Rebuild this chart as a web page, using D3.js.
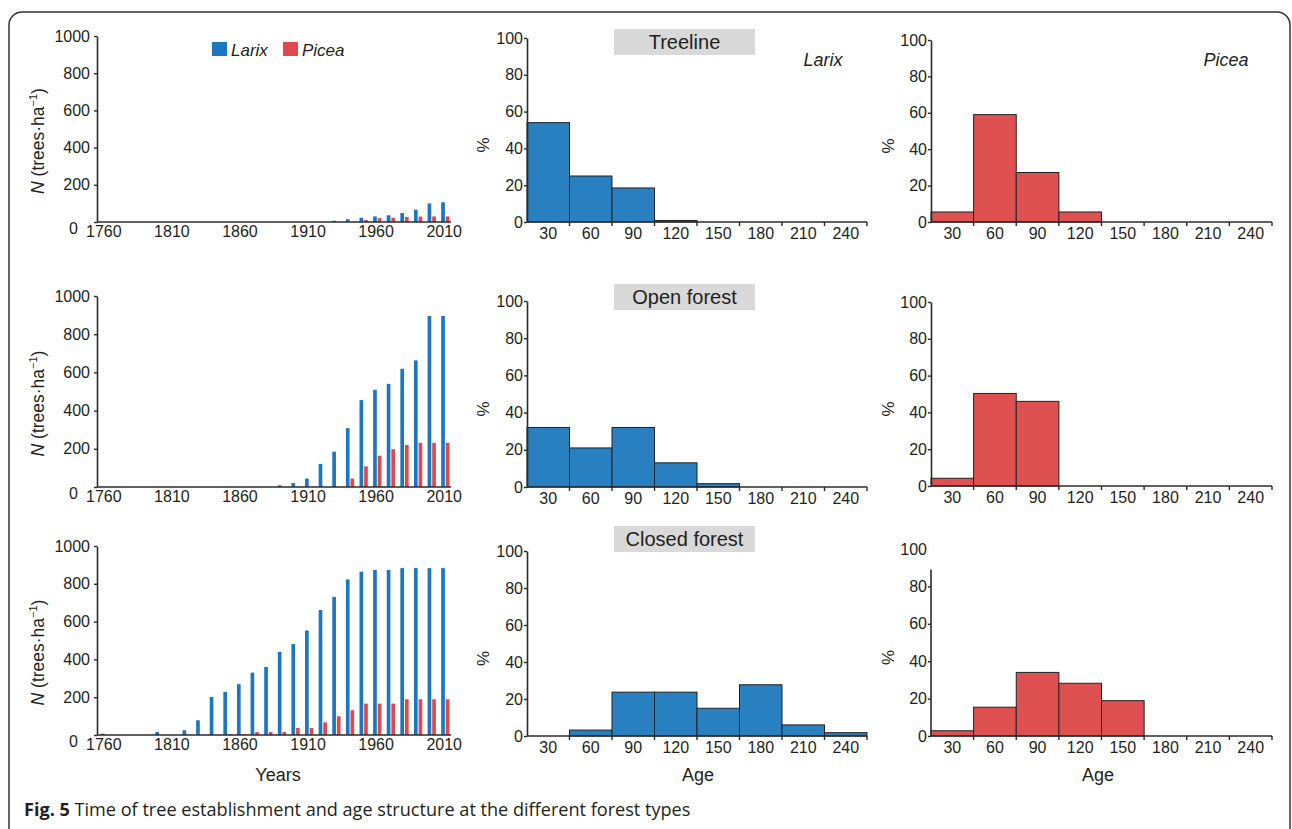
<!DOCTYPE html>
<html>
<head>
<meta charset="utf-8">
<script src="https://cdn.jsdelivr.net/npm/d3@7"></script>
<style>
  html, body { margin: 0; padding: 0; background: #fff; }
  svg { display: block; }
  text { font-family: "Liberation Sans", Arial, sans-serif; fill: #231f20; }
</style>
</head>
<body>
<svg id="chart" width="1292" height="829"></svg>
<script>
// ---------- DATA ----------
const years = [1760,1770,1780,1790,1800,1810,1820,1830,1840,1850,1860,1870,1880,1890,1900,1910,1920,1930,1940,1950,1960,1970,1980,1990,2000,2010];
const yearTicks = [1760,1810,1860,1910,1960,2010];
const countTicks = [0,200,400,600,800,1000];

const treelineLarix = [0,0,0,0,0,0,0,0,0,0,0,0,0,0,0,0,0,7,15,23,30,36,48,66,100,106];
const treelinePicea = [0,0,0,0,0,0,0,0,0,0,0,0,0,0,0,0,0,0,0,11,21,23,27,29,30,30];
const openLarix     = [0,0,0,0,0,0,0,0,0,0,0,0,0,9,21,44,121,185,308,455,509,540,619,663,895,895];
const openPicea     = [0,0,0,0,0,0,0,0,0,0,0,0,0,0,0,0,0,0,44,108,164,198,220,231,231,231];
const closedLarix   = [7,0,0,0,16,0,25,78,201,228,269,330,360,440,481,553,661,731,823,864,873,873,883,883,883,883];
const closedPicea   = [0,0,0,0,0,0,0,0,0,5,5,16,16,16,37,37,67,99,131,166,166,166,189,189,189,189];

const ageClasses = ["30","60","90","120","150","180","210","240"];
const pctTicks = [0,20,40,60,80,100];
const treelineLarixPct = [54,25,18.5,0.8,0,0,0,0];
const openLarixPct     = [32,21,32,13,1.8,0,0,0];
const closedLarixPct   = [0,3.2,23.7,23.7,15,27.7,6,1.8];
const treelinePiceaPct = [5.5,59,27.2,5.5,0,0,0,0];
const openPiceaPct     = [4.2,50.3,46,0,0,0,0,0];
const closedPiceaPct   = [2.8,15.4,34,28.2,18.9,0,0,0];

const forestTypes = ["Treeline","Open forest","Closed forest"];
const speciesNames = ["Larix","Picea"];

// ---------- STYLE ----------
const BLUE_BAR = "#1b76c4";
const RED_BAR = "#e0484c";
const BLUE_HIST = "#2880c0";
const RED_HIST = "#df5151";
const AXIS = "#2b2b2b";
const FS = 16;     // tick labels
const FT = 18;     // titles

const svg = d3.select("#chart");

// frame
svg.append("rect").attr("x",9).attr("y",12).attr("width",1281).attr("height",840)
  .attr("rx",13).attr("fill","none").attr("stroke","#333").attr("stroke-width",1.5);

function styleAxis(g){
  g.select(".domain").attr("stroke",AXIS).attr("stroke-width",1.6);
  g.selectAll(".tick line").attr("stroke",AXIS).attr("stroke-width",1.4);
  g.selectAll(".tick text").attr("font-size",FS).attr("fill","#231f20");
}

// ---------- LEFT COLUMN: establishment bars ----------
const leftRows = [
  {top:36, bottom:222, larix:treelineLarix, picea:treelinePicea},
  {top:296, bottom:487, larix:openLarix, picea:openPicea},
  {top:546, bottom:735, larix:closedLarix, picea:closedPicea}
];
const LX0 = 97, LX1 = 451;
const xYear = d3.scaleBand().domain(years).range([LX0, LX1]).paddingInner(0).paddingOuter(0);

leftRows.forEach((r,i)=>{
  const y = d3.scaleLinear().domain([0,1000]).range([r.bottom, r.top]);
  const g = svg.append("g");
  const bw = xYear.bandwidth();
  g.selectAll("rect.larix").data(years.map((yr,k)=>({yr, v:r.larix[k]})).filter(d=>d.v>0))
    .join("rect").attr("x",d=>xYear(d.yr)+bw*0.28).attr("width",bw*0.27)
    .attr("y",d=>y(d.v)).attr("height",d=>y(0)-y(d.v)).attr("fill",BLUE_BAR);
  g.selectAll("rect.picea").data(years.map((yr,k)=>({yr, v:r.picea[k]})).filter(d=>d.v>0))
    .join("rect").attr("x",d=>xYear(d.yr)+bw*0.62).attr("width",bw*0.27)
    .attr("y",d=>y(d.v)).attr("height",d=>y(0)-y(d.v)).attr("fill",RED_BAR);

  const ya = g.append("g").attr("transform",`translate(${LX0},0)`)
    .call(d3.axisLeft(y).tickValues(countTicks).tickFormat(d3.format("d")).tickSize(3).tickPadding(4).tickSizeOuter(0));
  styleAxis(ya);
  // zero label sits lower-left in the original
  ya.selectAll(".tick").filter(d=>d===0).select("text").attr("x",-19).attr("y",6);
  const xa = g.append("g").attr("transform",`translate(0,${r.bottom})`)
    .call(d3.axisBottom(xYear).tickValues(yearTicks).tickSize(0).tickPadding(4).tickSizeOuter(0));
  styleAxis(xa);
  xa.select(".domain").attr("d",`M${LX0},0H${LX1}`);

  const lab = g.append("text")
    .attr("transform",`translate(44,${(r.top+r.bottom)/2+12}) rotate(-90)`)
    .attr("text-anchor","middle").attr("font-size",17.5);
  lab.append("tspan").attr("font-style","italic").text("N");
  lab.append("tspan").text(" (trees·ha");
  lab.append("tspan").attr("font-size",11).attr("dy",-7).text("−1");
  lab.append("tspan").attr("dy",7).text(")");
});

svg.append("text").attr("x",278).attr("y",781).attr("text-anchor","middle").attr("font-size",FT).text("Years");

// legend
const legend = svg.append("g");
[{name:speciesNames[0], c:BLUE_BAR, x:212},{name:speciesNames[1], c:RED_BAR, x:283}].forEach(d=>{
  legend.append("rect").attr("x",d.x).attr("y",42).attr("width",15).attr("height",14).attr("fill",d.c);
  legend.append("text").attr("x",d.x+19).attr("y",56).attr("font-size",17).attr("font-style","italic").text(d.name);
});

// ---------- HISTOGRAMS ----------
function histPanel(x0, x1, top, bottom, data, color, labelOffset, opts={}){
  const g = svg.append("g");
  const x = d3.scaleBand().domain(ageClasses).range([x0,x1]);
  const y = d3.scaleLinear().domain([0,100]).range([bottom, top]);
  g.selectAll("rect").data(ageClasses.map((a,k)=>({a, v:data[k]})).filter(d=>d.v>0))
    .join("rect").attr("x",d=>x(d.a)).attr("width",x.bandwidth())
    .attr("y",d=>y(d.v)).attr("height",d=>y(0)-y(d.v))
    .attr("fill",color).attr("stroke","#222").attr("stroke-width",1);
  const ya = g.append("g").attr("transform",`translate(${x0},0)`)
    .call(d3.axisLeft(y).tickValues(pctTicks).tickSize(3).tickPadding(1).tickSizeOuter(0));
  styleAxis(ya);
  if (opts.axisTop !== undefined){
    ya.select(".domain").attr("d",`M0,${y(opts.axisTop)}V${y(0)}`);
    ya.selectAll(".tick").filter(d=>d===100).select("line").remove();
  }
  const xa = g.append("g").attr("transform",`translate(0,${bottom})`)
    .call(d3.axisBottom(x).tickSize(0).tickPadding(6).tickSizeOuter(0));
  styleAxis(xa);
  xa.select(".domain").attr("d",`M${x0},0H${x1}`);
  // tick marks at bin boundaries
  g.selectAll("line.bt").data(ageClasses.slice(1).concat(["end"]))
    .join("line")
    .attr("x1",d=>d==="end"?x1:x(d)).attr("x2",d=>d==="end"?x1:x(d))
    .attr("y1",bottom).attr("y2",bottom+4).attr("stroke",AXIS).attr("stroke-width",1.4);
  g.append("text").attr("transform",`translate(${x0-labelOffset},${(top+bottom)/2+15}) rotate(-90)`)
    .attr("text-anchor","middle").attr("font-size",17).text("%");
  return g;
}

const MX0 = 527, MX1 = 867, RX0 = 931, RX1 = 1272;
histPanel(MX0, MX1, 38, 222, treelineLarixPct, BLUE_HIST, 38);
histPanel(MX0, MX1, 301, 487, openLarixPct, BLUE_HIST, 38);
histPanel(MX0, MX1, 551, 736, closedLarixPct, BLUE_HIST, 38);
histPanel(RX0, RX1, 40, 222, treelinePiceaPct, RED_HIST, 37);
histPanel(RX0, RX1, 302, 486, openPiceaPct, RED_HIST, 37);
histPanel(RX0, RX1, 549, 736, closedPiceaPct, RED_HIST, 37, {axisTop:89});

// forest type header boxes
[29, 284, 526].forEach((by,i)=>{
  svg.append("rect").attr("x",614).attr("y",by).attr("width",141).attr("height",26).attr("fill","#d9d9d9");
  svg.append("text").attr("x",684.5).attr("y",by+20).attr("text-anchor","middle").attr("font-size",20).text(forestTypes[i]);
});

svg.append("text").attr("x",823).attr("y",66).attr("text-anchor","middle").attr("font-size",FT).attr("font-style","italic").text(speciesNames[0]);
svg.append("text").attr("x",1226).attr("y",66).attr("text-anchor","middle").attr("font-size",FT).attr("font-style","italic").text(speciesNames[1]);

svg.append("text").attr("x",698).attr("y",781).attr("text-anchor","middle").attr("font-size",FT).text("Age");
svg.append("text").attr("x",1098).attr("y",781).attr("text-anchor","middle").attr("font-size",FT).text("Age");

// caption
const cap = svg.append("text").attr("x",24).attr("y",816).attr("font-size",18.1)
  .style("font-family","'Open Sans', sans-serif");
cap.append("tspan").attr("font-weight","bold").style("font-family","'Open Sans', sans-serif").text("Fig. 5");
cap.append("tspan").style("font-family","'Open Sans', sans-serif").text(" Time of tree establishment and age structure at the different forest types");
</script>
</body>
</html>
